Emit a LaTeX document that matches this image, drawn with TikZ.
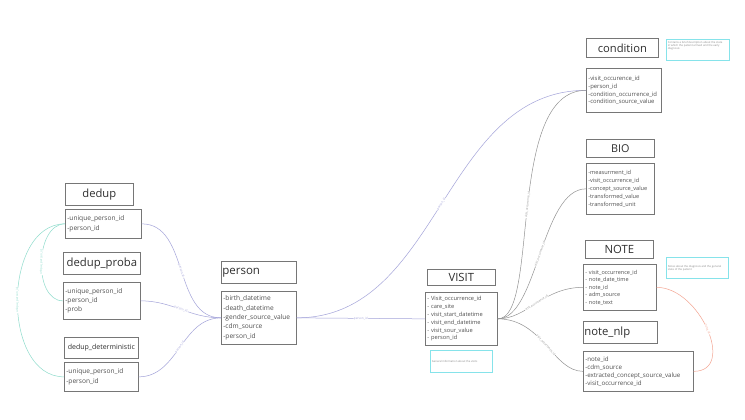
\documentclass[tikz,border=0pt]{standalone}
\usepackage{fontspec}
\setmainfont{Open Sans}
\definecolor{boxc}{HTML}{767676}
\definecolor{titlec}{HTML}{2E2E2E}
\definecolor{attrc}{HTML}{505050}
\definecolor{notec}{HTML}{86E3EA}
\definecolor{notetc}{HTML}{8A8A8A}
\definecolor{purpc}{HTML}{A4A4DA}
\definecolor{grayc}{HTML}{939393}
\definecolor{greenc}{HTML}{8EDCCC}
\definecolor{salmc}{HTML}{F4A593}
\newcommand{\setfs}[2]{\fontsize{#1}{#2}\selectfont}
\tikzset{
  box/.style={draw=boxc, line width=0.7pt, fill=white, anchor=north west, inner ysep=0pt},
  titlebox/.style={box, text=titlec, inner xsep=0pt},
  titleleft/.style={box, text=titlec, inner xsep=1pt, align=left},
  attrbox/.style={box, text=attrc, inner xsep=2pt, align=left},
  notebox/.style={draw=notec, line width=0.8pt, fill=white, anchor=north west, inner sep=1.5pt, text=notetc, font=\setfs{2.7}{3.2}},
  lnk/.style={line width=0.5pt},
  purp/.style={lnk, color=purpc},
  grayl/.style={lnk, color=grayc},
  greenl/.style={lnk, color=greenc},
  salml/.style={lnk, color=salmc},
  elabel/.style={sloped, midway, fill=white, inner sep=0.3pt, font=\setfs{3}{3}},
}
\begin{document}
\begin{tikzpicture}[x=1pt, y=-1pt]
\fill[white] (0,0) rectangle (745,420);
\useasboundingbox (0,0) rectangle (745,420);

% dedup
\node[titlebox, minimum width=68pt, minimum height=22pt, font=\setfs{11.2}{13}] (dedupT) at (65,183) {dedup};
\node[attrbox, text width=72pt, minimum height=29pt, font=\setfs{6.6}{10}] (dedupA) at (65,209) {-unique\_person\_id\\-person\_id};
% dedup_proba
\node[titlebox, minimum width=77pt, minimum height=22pt, font=\setfs{11.3}{13}] (probaT) at (63,252) {dedup\_proba};
\node[attrbox, text width=73pt, minimum height=37pt, font=\setfs{6.6}{9.3}] (probaA) at (63,282) {-unique\_person\_id\\-person\_id\\-prob};
% dedup_deterministic
\node[titlebox, minimum width=74pt, minimum height=21pt, font=\setfs{7}{9}] (detT) at (64,337) {dedup\_deterministic};
\node[attrbox, text width=70pt, minimum height=29pt, font=\setfs{6.6}{9.3}] (detA) at (64,362) {-unique\_person\_id\\-person\_id};
% person
\node[titleleft, text width=73pt, minimum height=22pt, font=\setfs{11.5}{13}] (personT) at (221,261) {person};
\node[attrbox, text width=71pt, minimum height=53pt, font=\setfs{6.6}{9.3}] (personA) at (221,291) {-birth\_datetime\\-death\_datetime\\-gender\_source\_value\\-cdm\_source\\-person\_id};
% VISIT
\node[titlebox, minimum width=68pt, minimum height=16pt, font=\setfs{11.3}{13}] (visitT) at (427,269) {VISIT};
\node[attrbox, text width=68pt, minimum height=53pt, font=\setfs{5.7}{7.8}] (visitA) at (425,292) {- Visit\_occurrence\_id\\- care\_site\\- visit\_start\_datetime\\- visit\_end\_datetime\\- visit\_sour\_value\\- person\_id};
\node[notebox] (visitN) at (430,350) {\parbox[c][19pt][c]{59pt}{General information about the visits}};
% condition
\node[titlebox, minimum width=72pt, minimum height=19pt, font=\setfs{11.2}{13}] (condT) at (586,38) {condition};
\node[attrbox, text width=71pt, minimum height=44pt, font=\setfs{5.9}{7.8}] (condA) at (586,68) {-visit\_occurence\_id\\-person\_id\\-condition\_occurrence\_id\\-condition\_source\_value};
\node[notebox] (condN) at (666,39) {\parbox[c][18pt][t]{60pt}{\vspace{0.5pt}Contains a brief description about the state\\in which the patient arrived and the early\\diagnosis}};
% BIO
\node[titlebox, minimum width=68pt, minimum height=18pt, font=\setfs{10.8}{13}] (bioT) at (586,139) {BIO};
\node[attrbox, text width=64pt, minimum height=51pt, font=\setfs{5.6}{7.8}] (bioA) at (586,163) {-measurment\_id\\-visit\_occurrence\_id\\-concept\_source\_value\\-transformed\_value\\-transformed\_unit};
% NOTE
\node[titlebox, minimum width=68pt, minimum height=18pt, font=\setfs{11.3}{13}] (noteT) at (585,240) {NOTE};
\node[attrbox, text width=69pt, minimum height=46pt, font=\setfs{5.5}{7.5}] (noteA) at (583,264) {- visit\_occurrence\_id\\- note\_date\_time\\- note\_id\\- adm\_source\\- note\_text};
\node[notebox] (noteN) at (666,257) {\parbox[c][18pt][c]{59pt}{Notes about the diagnosis and the general\\state of the patient}};
% note_nlp
\node[titleleft, text width=72pt, minimum height=22pt, font=\setfs{11.3}{13}] (nlpT) at (583,321) {note\_nlp};
\node[attrbox, text width=106pt, minimum height=40pt, font=\setfs{6.2}{8.1}] (nlpA) at (583,351) {-note\_id\\-cdm\_source\\-extracted\_concept\_source\_value\\-visit\_occurrence\_id};

% purple links
\draw[purp] (dedupA.east) to[out=0,in=180] node[elabel]{person\_id} (personA.west);
\draw[purp] (probaA.east) to[out=0,in=180] node[elabel]{person\_id} (personA.west);
\draw[purp] (detA.east) to[out=0,in=180] node[elabel]{person\_id} (personA.west);
\draw[purp] (personA.east) -- node[elabel]{person\_id} (visitA.west);
\draw[purp] (personA.east) to[out=0,in=180] node[elabel]{person\_id} (condA.west);
% gray links
\draw[grayl] (visitA.east) .. controls +(43,0) and +(-81,0) .. node[elabel]{visit\_occurrence\_id} (condA.west);
\draw[grayl] (visitA.east) .. controls +(40,0) and +(-45,0) .. node[elabel]{visit\_occurrence\_id} (bioA.west);
\draw[grayl] (visitA.east) .. controls +(30,0) and +(-40,0) .. node[elabel]{visit\_occurrence\_id} (noteA.west);
\draw[grayl] (visitA.east) .. controls +(45,0) and +(-30,0) .. node[elabel]{visit\_occurrence\_id} (nlpA.west);
% green links
\draw[greenl] (dedupA.west) to[out=180,in=180] node[elabel]{unique\_person\_id} (probaA.west);
\draw[greenl] (dedupA.west) to[out=180,in=180,looseness=1.05] node[elabel]{unique\_person\_id} (detA.west);
% salmon link
\draw[salml] (noteA.east) to[out=0,in=0,looseness=1.2] node[elabel]{note\_id} (nlpA.east);
\end{tikzpicture}
\end{document}
